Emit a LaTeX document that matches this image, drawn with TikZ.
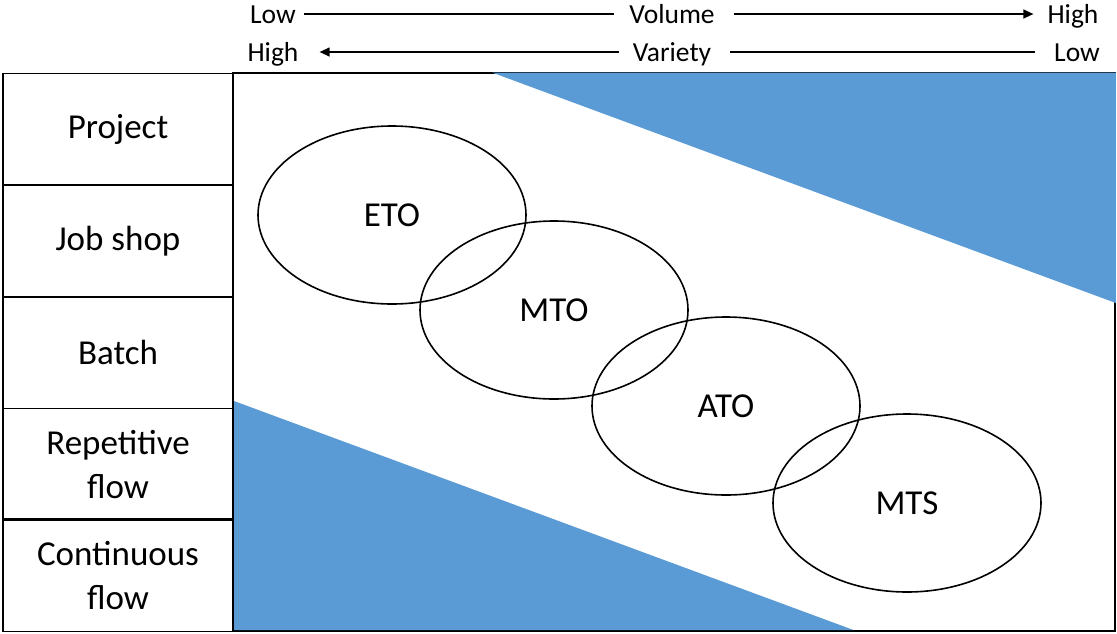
\documentclass[tikz,border=0pt]{standalone}
\usepackage{fontspec}
\setmainfont{Carlito}
\usetikzlibrary{shapes.geometric,arrows.meta}
\definecolor{fillblue}{HTML}{5B9BD5}
\tikzset{
  cell/.style={draw=black, line width=1.6pt, rectangle, minimum width=230pt, minimum height=111.6pt, inner sep=0pt, align=center, font=\fontsize{35}{44}\selectfont},
  oval/.style={draw=black, line width=1.6pt, ellipse, minimum width=268pt, minimum height=178pt, inner sep=0pt, font=\fontsize{35}{40}\selectfont},
  toplabel/.style={inner sep=0pt, font=\fontsize{27.5}{30}\selectfont, anchor=base},
  axis/.style={line width=1.3pt},
  axisarrow/.style={line width=1.3pt, -{Triangle[length=10pt,width=9pt]}}
}
\begin{document}
\begin{tikzpicture}[x=1pt,y=-1pt]
\useasboundingbox (0,0) rectangle (1117,633);
% main frame
\draw[line width=1.6pt] (233,73) rectangle (1115,631);
% blue triangles
\fill[fillblue] (492,72.5) -- (1115.8,72.5) -- (1115.8,303) -- cycle;
\fill[fillblue] (234,401) -- (234,630.2) -- (854,630.2) -- cycle;
% ellipses
\node[oval] (eto) at (392,215) {ETO};
\node[oval] (mto) at (554,310) {MTO};
\node[oval] (ato) at (726,406) {ATO};
\node[oval] (mts) at (907,503) {MTS};
% left column
\node[cell] (project) at (118,129.3) {Project};
\node[cell] (jobshop) at (118,240.9) {Job shop};
\node[cell] (batch) at (118,352.5) {Batch};
\node[cell] (repetitive) at (118,464.1) {Repetitive\\flow};
\node[cell] (continuous) at (118,575.7) {Continuous\\flow};
\draw[line width=2.6pt] (3,519.7) -- (233,519.7);
% top labels
\node[toplabel] (lowv) at (273,23) {Low};
\node[toplabel] (vol) at (672,23) {Volume};
\node[toplabel] (highv) at (1073,23) {High};
\node[toplabel] (highr) at (273,61) {High};
\node[toplabel] (var) at (672,61) {Variety};
\node[toplabel] (lowr) at (1077,61) {Low};
\draw[axis] ([xshift=8pt]lowv.east |- 0,14) -- ([xshift=-15pt]vol.west |- 0,14);
\draw[axisarrow] ([xshift=19pt]vol.east |- 0,14) -- ([xshift=-14pt]highv.west |- 0,14);
\draw[axisarrow] ([xshift=-14pt]var.west |- 0,52) -- ([xshift=21pt]highr.east |- 0,52);
\draw[axis] ([xshift=19pt]var.east |- 0,52) -- ([xshift=-19pt]lowr.west |- 0,52);
\end{tikzpicture}
\end{document}
